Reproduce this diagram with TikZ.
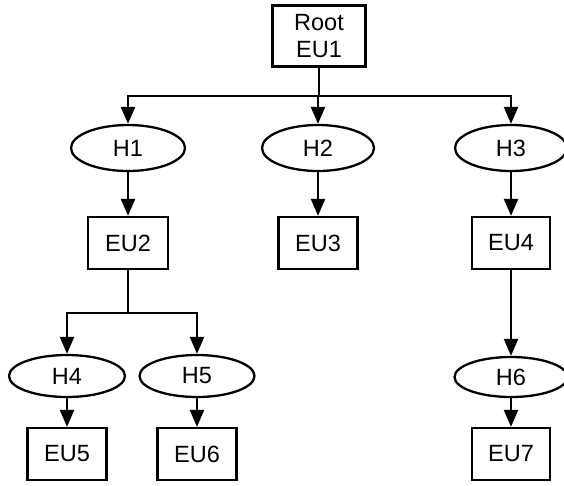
\documentclass[tikz,border=0pt]{standalone}
\usepackage{fontspec}
\setmainfont{Liberation Sans}
\usetikzlibrary{arrows.meta,shapes.geometric}
\begin{document}
\begin{tikzpicture}[x=1pt,y=-1pt,
  every node/.style={font=\fontsize{23.5}{27}\selectfont, inner sep=0pt, line width=2.3pt},
  unitbox/.style={draw, rectangle, minimum width=79pt, minimum height=52pt, align=center},
  hbox/.style={draw, ellipse, minimum width=114pt, minimum height=46pt},
  conn/.style={line width=2.3pt},
  arr/.style={line width=2.3pt, -{Triangle[length=17pt,width=14pt]}}]
\useasboundingbox (0,0) rectangle (564,485);
\node[unitbox, minimum width=93pt, minimum height=61pt] (root) at (319,36) {Root\\EU1};
\node[hbox] (h1) at (128,148) {H1};
\node[hbox, minimum width=112pt] (h2) at (318,148) {H2};
\node[hbox, minimum width=112pt] (h3) at (511,148) {H3};
\node[unitbox, minimum width=80pt] (eu2) at (128,243) {EU2};
\node[unitbox] (eu3) at (318,243) {EU3};
\node[unitbox, minimum width=78pt] (eu4) at (511,243) {EU4};
\node[hbox, minimum width=116pt, minimum height=42pt] (h4) at (67,376) {H4};
\node[hbox, minimum width=115pt, minimum height=42pt] (h5) at (197,376) {H5};
\node[hbox, minimum width=113pt, minimum height=40pt] (h6) at (511,377) {H6};
\node[unitbox] (eu5) at (67,454) {EU5};
\node[unitbox] (eu6) at (197,454) {EU6};
\node[unitbox, minimum width=78pt] (eu7) at (511,454) {EU7};
\coordinate (b0) at (319,96);
\coordinate (b1) at (128,96);
\coordinate (b2) at (318,96);
\coordinate (b3) at (511,96);
\coordinate (c0) at (128,313);
\coordinate (c1) at (67,313);
\coordinate (c2) at (197,313);
\draw[conn] (root.south) -- (b0);
\draw[conn,line cap=rect] (b1) -- (b3);
\draw[arr] (b1) -- (h1.north);
\draw[arr] (b2) -- (h2.north);
\draw[arr] (b3) -- (h3.north);
\draw[arr] (h1.south) -- (eu2.north);
\draw[arr] (h2.south) -- (eu3.north);
\draw[arr] (h3.south) -- (eu4.north);
\draw[conn] (eu2.south) -- (c0);
\draw[conn,line cap=rect] (c1) -- (c2);
\draw[arr] (c1) -- (h4.north);
\draw[arr] (c2) -- (h5.north);
\draw[arr] (eu4.south) -- (h6.north);
\draw[arr] (h4.south) -- (eu5.north);
\draw[arr] (h5.south) -- (eu6.north);
\draw[arr] (h6.south) -- (eu7.north);
\end{tikzpicture}
\end{document}
